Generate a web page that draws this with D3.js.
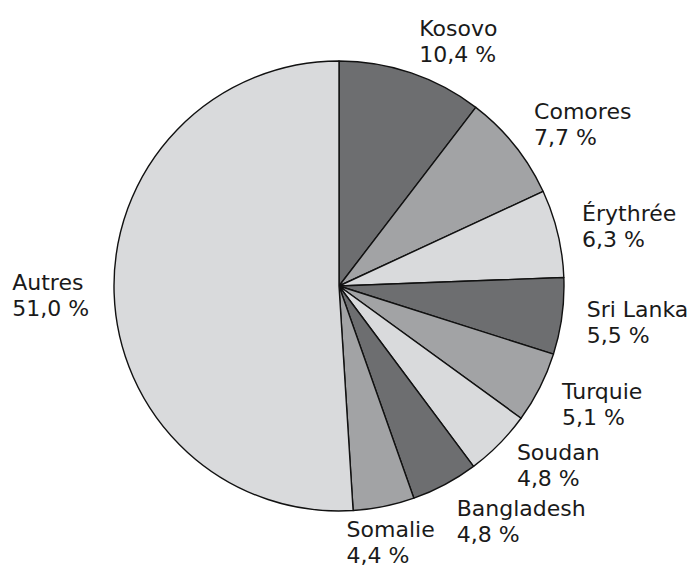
<!DOCTYPE html>
<html>
<head>
<meta charset="utf-8">
<script src="https://cdn.jsdelivr.net/npm/d3@7"></script>
<style>
  body { margin: 0; background: #fff; }
  svg text { font-family: "DejaVu Sans", sans-serif; font-size: 22px; fill: #1a1a1a; }
</style>
</head>
<body>
<div id="chart"></div>
<script>
var countries = ["Kosovo", "Comores", "Érythrée", "Sri Lanka", "Turquie", "Soudan", "Bangladesh", "Somalie", "Autres"];
var shares = [10.4, 7.7, 6.3, 5.5, 5.1, 4.8, 4.8, 4.4, 51.0];

var width = 689, height = 574;
var cx = 339, cy = 286, radius = 225;

var svg = d3.select("#chart")
    .append("svg")
    .attr("width", width)
    .attr("height", height);

var g = svg.append("g")
    .attr("transform", "translate(" + cx + "," + cy + ")");

var shade = d3.scaleOrdinal()
    .domain(countries)
    .range(["#6d6e70", "#a2a3a5", "#d9dadc"]);

var pie = d3.pie().sort(null).value(function (d) { return d; });
var arcs = pie(shares);

var arc = d3.arc().innerRadius(0).outerRadius(radius);

g.selectAll("path")
    .data(arcs)
    .enter()
    .append("path")
    .attr("d", arc)
    .attr("fill", function (d, i) { return shade(countries[i]); })
    .attr("stroke", "#111")
    .attr("stroke-width", 1.4)
    .attr("stroke-linejoin", "round");

var fmt = function (v) { return d3.format(".1f")(v).replace(".", ",") + " %"; };

// labels: two lines, placed outside along the mid angle
var lineGap = 26, capH = 16, descent = 6, margin = 8;
var rx = radius + 25, ry = radius + 15, anchorH = 40;
var boxes = [];

function place(b) {
    b.node.attr("transform", "translate(" + b.left + "," + (b.top + capH) + ")");
}

arcs.forEach(function (d, i) {
    var a = (d.startAngle + d.endAngle) / 2;
    var s = Math.sin(a), c = Math.cos(a);

    var t = g.append("text");
    t.append("tspan").attr("x", 0).attr("y", 0).text(countries[i]);
    t.append("tspan").attr("x", 0).attr("y", lineGap).text(fmt(shares[i]));

    var w = t.node().getBBox().width;
    var h = capH + lineGap + descent + margin;

    var px = rx * s, py = -ry * c;
    var b = {
        node: t,
        w: w,
        h: h,
        left: s >= 0 ? px : px - w,
        top: py - anchorH * (1 + c) / 2
    };

    // push away from previous label if they collide
    var prev = boxes[boxes.length - 1];
    if (prev && b.left < prev.left + prev.w && b.left + w > prev.left &&
        b.top < prev.top + prev.h && b.top + h > prev.top) {
        var overlapY = prev.top + prev.h - b.top;
        if (overlapY < 16) {
            prev.top -= overlapY / 2;
            b.top += overlapY / 2;
            place(prev);
        } else {
            b.left = prev.left - 22 - w;
        }
    }
    boxes.push(b);
    place(b);
});
</script>
</body>
</html>
